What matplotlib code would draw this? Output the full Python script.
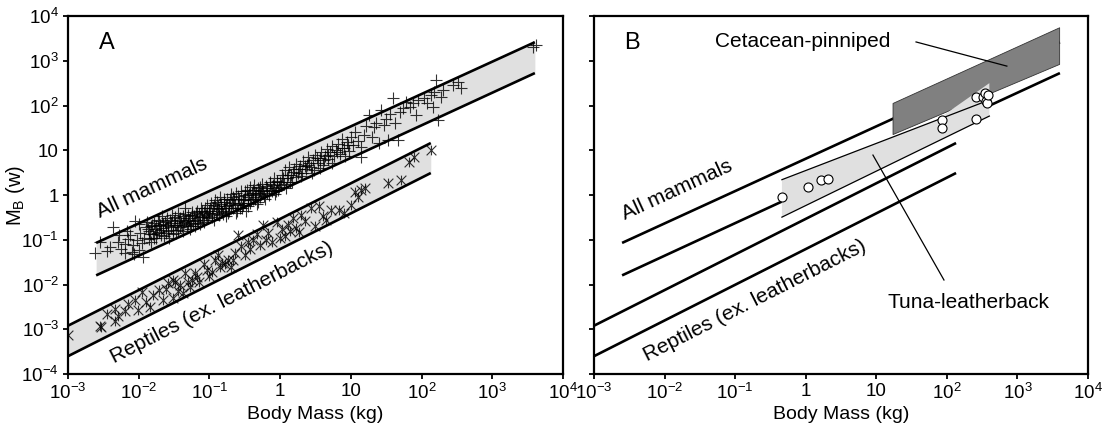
import numpy as np
import matplotlib as mpl
mpl.use('Agg')
import matplotlib.pyplot as plt
from matplotlib.path import Path

mpl.rcParams['font.family'] = 'Liberation Sans'
mpl.rcParams['mathtext.fontset'] = 'custom'
mpl.rcParams['mathtext.rm'] = 'Liberation Sans'
mpl.rcParams['mathtext.it'] = 'Liberation Sans:italic'
mpl.rcParams['mathtext.bf'] = 'Liberation Sans:bold'

# ---- data (log10 values) ----
mammal_log_mass = [
    -2.62, -2.40, -2.36, -2.30, -2.25, -2.19, -2.15, -2.12, -2.10, -2.08, -2.05, -2.03, -2.00, -1.98, -1.96, -1.94, -1.92, -1.90,
    -1.88, -1.86, -1.85, -1.83, -1.82, -1.80, -1.78, -1.77, -1.75, -1.73, -1.72, -1.70, -1.68, -1.67, -1.65, -1.63, -1.62, -1.60,
    -1.58, -1.57, -1.55, -1.53, -1.52, -1.50, -1.48, -1.47, -1.45, -1.43, -1.42, -1.40, -1.38, -1.37, -1.35, -1.33, -1.32, -1.30,
    -1.28, -1.27, -1.25, -1.23, -1.22, -1.20, -1.18, -1.17, -1.15, -1.13, -1.12, -1.10, -1.08, -1.07, -1.05, -1.03, -1.02, -1.00,
    -0.98, -0.96, -0.95, -0.93, -0.92, -0.90, -0.88, -0.86, -0.85, -0.83, -0.82, -0.80, -0.78, -0.77, -0.75, -0.73, -0.72, -0.70,
    -0.68, -0.67, -0.65, -0.63, -0.62, -0.60, -0.58, -0.57, -0.55, -0.53, -0.52, -0.50, -0.48, -0.47, -0.45, -0.43, -0.42, -0.40,
    -0.38, -0.37, -0.35, -0.33, -0.32, -0.30, -0.28, -0.26, -0.25, -0.23, -0.20, -0.18, -0.15, -0.13, -0.10, -0.08, -0.06, -0.04,
    -0.02, 0.00, 0.02, 0.05, 0.07, 0.10, 0.12, 0.15, 0.17, 0.20, 0.22, 0.25, 0.28, 0.30, 0.33, 0.36, 0.38, 0.40, 0.43, 0.46,
    0.48, 0.50, 0.53, 0.56, 0.58, 0.60, 0.63, 0.66, 0.68, 0.70, 0.73, 0.76, 0.79, 0.82, 0.85, 0.88, 0.91, 0.94, 0.97,
    1.00, 1.03, 1.06, 1.10, 1.14, 1.14, 1.18, 1.22, 1.26, 1.30, 1.33, 1.36, 1.40, 1.43, 1.47, 1.50, 1.52, 1.56, 1.60, 1.63,
    1.67, 1.70, 1.74, 1.78, 1.83, 1.88, 1.92, 1.95, 2.04, 2.08, 2.13, 2.16, 2.18, 2.21, 2.23, 2.27, 2.30, 2.45, 2.52, 2.56,
    3.58, 3.62,
    -2.55, -2.45, -2.28, -2.20, -2.17, -2.06, -1.99,
    -1.87, -1.84, -1.81, -1.79, -1.76, -1.74, -1.71, -1.69, -1.66, -1.64, -1.61, -1.59, -1.56, -1.54, -1.51, -1.49, -1.46, -1.44,
    -1.41, -1.39, -1.36, -1.34, -1.31, -1.29, -1.26, -1.24, -1.21, -1.19, -1.16, -1.14, -1.11, -1.09, -1.06, -1.04, -1.01, -0.99,
    -0.97, -0.94, -0.91, -0.89, -0.87, -0.84, -0.81, -0.79, -0.76, -0.74, -0.71, -0.69, -0.66, -0.64, -0.61, -0.59, -0.56, -0.54,
    -0.51, -0.49, -0.46, -0.44, -0.41, -0.39, -0.36, -0.34, -0.31, -0.29, -0.27, -0.24, -0.22, -0.19, -0.16, -0.14, -0.11, -0.09,
    -0.07, -0.05, -0.03, 0.01, 0.04, 0.08, 0.11, 0.14, 0.18, 0.23, 0.27, 0.31, 0.35, 0.41, 0.45, 0.52, 0.57, 0.62, 0.67, 0.74,
    0.81, 0.87, 0.92, 0.96,
]
mammal_log_mb = [
    -1.30, -1.16, -0.72, -1.05, -1.20, -1.30, -0.98, -0.89, -1.27, -1.12, -0.57, -1.00, -1.23, -0.85, -1.08, -1.39, -0.95, -0.72,
    -0.60, -0.98, -0.80, -0.70, -1.05, -0.88, -0.62, -0.76, -0.95, -0.55, -0.82, -0.68, -0.90, -0.48, -0.74, -0.60, -0.86, -0.52,
    -0.70, -0.95, -0.62, -0.45, -0.78, -0.58, -0.66, -0.85, -0.40, -0.55, -0.72, -0.62, -0.48, -0.80, -0.30, -0.58, -0.68, -0.45,
    -0.75, -0.52, -0.38, -0.62, -0.48, -0.70, -0.35, -0.55, -0.42, -0.65, -0.28, -0.50, -0.38, -0.60, -0.45, -0.22, -0.52, -0.35,
    -0.18, -0.42, -0.30, -0.55, -0.12, -0.35, -0.25, -0.45, -0.05, -0.28, -0.38, -0.15, -0.30, -0.48, -0.08, -0.22, -0.35, 0.02,
    -0.18, -0.30, -0.10, -0.40, 0.05, -0.20, -0.08, -0.28, 0.10, -0.12, -0.22, 0.00, -0.35, 0.12, -0.05, -0.18, 0.18, 0.05,
    -0.10, 0.22, 0.00, -0.20, 0.15, 0.08, -0.05, 0.25, 0.12, -0.02, 0.20, 0.05, 0.30, 0.12, 0.22, 0.38, 0.10, 0.28,
    0.18, 0.30, 0.45, 0.25, 0.55, 0.38, 0.62, 0.45, 0.30, 0.58, 0.70, 0.50, 0.65, 0.42, 0.75, 0.58, 0.68, 0.85, 0.62, 0.78,
    0.55, 0.90, 0.72, 0.82, 0.95, 0.68, 0.88, 1.02, 0.80, 0.95, 1.10, 0.88, 1.00, 1.15, 0.92, 1.25, 1.05, 1.18, 0.98,
    1.30, 1.12, 1.40, 1.20, 1.07, 0.85, 1.35, 1.55, 1.79, 1.30, 1.52, 1.62, 1.16, 1.90, 1.56, 1.70, 1.23, 1.80, 2.17, 1.62,
    1.23, 1.85, 1.95, 2.08, 1.97, 2.05, 1.78, 2.12, 2.17, 2.05, 2.23, 1.97, 2.30, 2.57, 1.68, 2.20, 2.35, 2.46, 2.52, 2.39,
    3.30, 3.36,
    -1.05, -1.25, -0.90, -1.10, -0.80, -1.32, -0.65,
    -0.75, -0.88, -0.66, -0.95, -0.70, -0.84, -0.58, -0.78, -0.64, -0.92, -0.68, -0.80, -0.55, -0.72, -0.88, -0.50, -0.68, -0.78,
    -0.52, -0.70, -0.60, -0.42, -0.65, -0.55, -0.70, -0.45, -0.58, -0.40, -0.62, -0.50, -0.36, -0.55, -0.30, -0.48, -0.40, -0.28,
    -0.50, -0.22, -0.40, -0.15, -0.32, -0.20, -0.42, -0.10, -0.25, -0.40, -0.12, -0.28, -0.05, -0.22, -0.35, -0.02, -0.18, -0.30,
    -0.08, 0.08, -0.25, 0.02, -0.12, 0.12, -0.08, 0.05, -0.15, 0.18, 0.02, 0.10, -0.10, 0.15, 0.00, 0.25, 0.08, 0.15,
    0.02, 0.32, 0.12, 0.22, 0.38, 0.15, 0.45, 0.30, 0.52, 0.40, 0.58, 0.50, 0.65, 0.72, 0.50, 0.82, 0.60, 0.78, 0.90, 0.72,
    0.95, 1.05, 0.88, 1.12,
]

reptile_log_mass = [
    -3.00, -2.55, -2.53, -2.34, -2.34, -2.30, -2.15, -2.05, -2.01, -1.96, -1.84, -1.80, -1.72, -1.66, -1.59, -1.52, -1.51,
    -1.45, -1.41, -1.35, -1.31, -1.27, -1.24, -1.17, -1.15, -1.08, -1.03, -0.96, -0.92, -0.85, -0.82, -0.74, -0.70, -0.64,
    -0.59, -0.55, -0.50, -0.46, -0.38, -0.33, -0.28, -0.24, -0.17, -0.12, -0.05, 0.00, 0.03, 0.07, 0.11, 0.18, 0.22, 0.26,
    0.35, 0.43, 0.50, 0.55, 0.61, 0.72, 0.83, 1.00, 1.06, 1.10, 1.14, 1.52, 1.71, 1.82, 1.89, 2.13,
    -2.45, -2.20, -1.90, -1.62, -1.48, -1.38, -1.20, -1.00, -0.88, -0.78, -0.66, -0.42, -0.20, 0.14, 0.30, 0.65, 0.90, 1.20,
]
reptile_log_mb = [
    -3.13, -2.93, -2.95, -2.82, -2.55, -2.70, -2.44, -2.35, -2.57, -2.17, -2.50, -2.23, -2.12, -2.35, -1.97, -1.90, -2.30,
    -2.15, -2.00, -1.75, -1.94, -2.06, -1.90, -1.83, -1.95, -1.55, -1.68, -1.72, -1.45, -1.62, -1.52, -1.46, -1.62, -1.29,
    -0.90, -1.15, -1.35, -1.06, -1.00, -0.88, -1.12, -0.68, -0.85, -1.05, -0.60, -0.96, -0.75, -0.92, -0.66, -0.52, -0.74, -0.82,
    -0.58, -0.30, -0.70, -0.25, -0.46, -0.34, -0.34, -0.23, 0.06, -0.04, 0.11, 0.27, 0.34, 0.74, 0.85, 1.01,
    -2.65, -2.60, -2.40, -2.10, -1.95, -2.20, -1.75, -1.80, -1.35, -1.55, -1.45, -1.20, -1.00, -0.80, -0.45, -0.55, -0.40, 0.15,
]

tuna_log_mass = [-0.34, 0.03, 0.22, 0.32, 1.93, 1.93, 2.41, 2.41, 2.51, 2.54, 2.55, 2.57, 2.58]
tuna_log_mb = [-0.05, 0.18, 0.34, 0.36, 1.68, 1.50, 1.70, 2.19, 2.19, 2.28, 2.10, 2.06, 2.23]

# regression bands: end points (mass kg, MB w)
mammal_ends = [2.5e-3, 4000]
mammal_upper = [0.085, 2600]
mammal_lower = [0.016, 530]
reptile_ends = [1e-3, 135]
reptile_upper = [1.2e-3, 14.5]
reptile_lower = [2.5e-4, 3.1]
cetacean_ends = [17, 3900]
cetacean_upper = [114, 5600]
cetacean_lower = [23, 850]
tuna_ends = [0.46, 400]
tuna_edge_upper = [2.2, 133]
tuna_lower = [0.32, 58]
tuna_top_right = 316
tuna_kink = (72, 47.4)

xticks = [1e-3, 1e-2, 1e-1, 1, 10, 1e2, 1e3, 1e4]
xticklabels = ['10$^{-3}$', '10$^{-2}$', '10$^{-1}$', '1', '10', '10$^{2}$', '10$^{3}$', '10$^{4}$']
yticks = [1e-4, 1e-3, 1e-2, 1e-1, 1, 10, 1e2, 1e3, 1e4]
yticklabels = ['10$^{-4}$', '10$^{-3}$', '10$^{-2}$', '10$^{-1}$', '1', '10', '10$^{2}$', '10$^{3}$', '10$^{4}$']

LW = 1.9
GREY = '#e0e0e0'
FS = 13.5
FS_NOTE = 15

# X with a vertical stroke, like the reference's reptile symbol
star = Path([(-1, -1), (1, 1), (-1, 1), (1, -1), (0, -1), (0, 1)],
            [Path.MOVETO, Path.LINETO, Path.MOVETO, Path.LINETO, Path.MOVETO, Path.LINETO])

fig = plt.figure(figsize=(11.13, 4.38), dpi=100)
axA = fig.add_axes([68/1113, 64/438, 495/1113, 358/438])
axB = fig.add_axes([594/1113, 64/438, 494/1113, 358/438])


def setup(ax, ylabels=True):
    ax.set_xscale('log')
    ax.set_yscale('log')
    ax.set_xlim(1e-3, 1e4)
    ax.set_ylim(1e-4, 1e4)
    ax.set_xticks(xticks)
    ax.set_xticklabels(xticklabels)
    ax.set_yticks(yticks)
    if ylabels:
        ax.set_yticklabels(yticklabels)
    else:
        ax.set_yticklabels([])
    ax.minorticks_off()
    ax.tick_params(direction='out', length=3.5, width=1.3, labelsize=FS, pad=3)
    for s in ax.spines.values():
        s.set_linewidth(1.6)
    ax.set_xlabel('Body Mass (kg)', fontsize=14, labelpad=2)


# ---- panel A ----
ax = axA
setup(ax)
ax.fill_between(mammal_ends, mammal_lower, mammal_upper, color=GREY, lw=0, zorder=1)
ax.fill_between(reptile_ends, reptile_lower, reptile_upper, color=GREY, lw=0, zorder=1)
for xs, ys in [(mammal_ends, mammal_upper), (mammal_ends, mammal_lower),
               (reptile_ends, reptile_upper), (reptile_ends, reptile_lower)]:
    ax.plot(xs, ys, color='k', lw=LW, solid_capstyle='butt', zorder=3)
ax.plot(10**np.array(mammal_log_mass), 10**np.array(mammal_log_mb), ls='none', marker='+',
        ms=8, mew=0.8, color='k', alpha=0.8, zorder=2)
ax.plot(10**np.array(reptile_log_mass), 10**np.array(reptile_log_mb), ls='none', marker=star,
        ms=7, mew=0.8, color='k', alpha=0.8, zorder=2)
ax.text(0.079, 0.925, 'A', transform=ax.transAxes, fontsize=17, ha='center', va='center')
ax.text(10**-1.81, 10**0.16, 'All mammals', rotation=24.7, fontsize=FS_NOTE, ha='center', va='center',
        rotation_mode='anchor')
ax.text(10**-0.82, 10**-2.41, 'Reptiles (ex. leatherbacks)', rotation=26.9, fontsize=FS_NOTE,
        ha='center', va='center', rotation_mode='anchor')
ax.set_ylabel('M$_{\\mathrm{B}}$ (w)', fontsize=14.5)
ax.yaxis.set_label_coords(-0.083, 0.5)

# ---- panel B ----
ax = axB
setup(ax, ylabels=False)
for xs, ys in [(mammal_ends, mammal_upper), (mammal_ends, mammal_lower),
               (reptile_ends, reptile_upper), (reptile_ends, reptile_lower)]:
    ax.plot(xs, ys, color='k', lw=LW, solid_capstyle='butt', zorder=1)
ax.fill_between(cetacean_ends, cetacean_lower, cetacean_upper, facecolor='#808080',
                edgecolor='#333333', lw=0.6, zorder=2)
ax.fill([tuna_ends[0], tuna_ends[1], tuna_ends[1], tuna_kink[0], tuna_ends[0]],
        [tuna_lower[0], tuna_lower[1], tuna_top_right, tuna_kink[1], tuna_edge_upper[0]],
        facecolor=GREY, edgecolor='none', zorder=3)
ax.plot(tuna_ends, tuna_edge_upper, color='k', lw=0.9, zorder=4)
ax.plot(tuna_ends, tuna_lower, color='k', lw=0.9, zorder=4)
ax.plot(10**np.array(tuna_log_mass), 10**np.array(tuna_log_mb), ls='none', marker='o',
        ms=6.5, mfc='white', mec='k', mew=0.8, zorder=5)
ax.plot([36.6, 708], [2630, 759], color='k', lw=0.9, zorder=6)
ax.plot([8.97, 91], [7.8, 0.0126], color='k', lw=0.9, zorder=6)
ax.text(0.077, 0.925, 'B', transform=ax.transAxes, fontsize=17, ha='center', va='center')
ax.text(10**-1.285, 10**3.42, 'Cetacean-pinniped', fontsize=FS_NOTE, ha='left', va='center')
ax.text(200, 10**-2.41, 'Tuna-leatherback', fontsize=FS_NOTE, ha='center', va='center')
ax.text(10**-1.82, 10**0.11, 'All mammals', rotation=24.7, fontsize=FS_NOTE, ha='center', va='center',
        rotation_mode='anchor')
ax.text(10**-0.72, 10**-2.35, 'Reptiles (ex. leatherbacks)', rotation=26.9, fontsize=FS_NOTE,
        ha='center', va='center', rotation_mode='anchor')

fig.savefig('out.png', dpi=100)
